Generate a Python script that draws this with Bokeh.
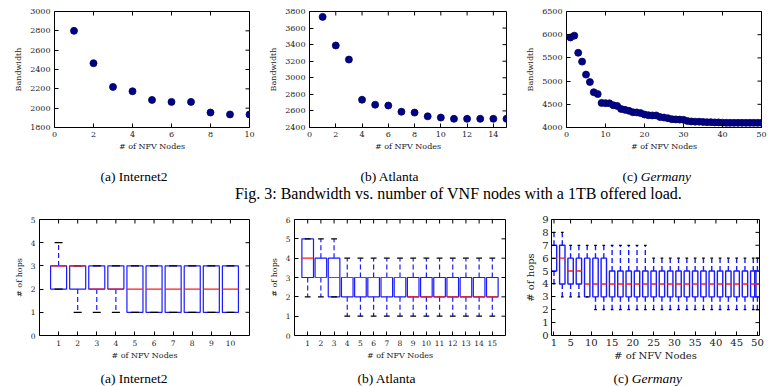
import math
from bokeh.plotting import figure
from bokeh.models import Range1d, FixedTicker, Label, ColumnDataSource
from bokeh.layouts import column, row
from bokeh.embed import file_html
from bokeh.resources import INLINE

# ---------------- data ----------------
# Bandwidth vs. number of NFV nodes (1TB offered load)
i2_nodes = list(range(1, 11))
i2_bandwidth = [2800, 2465, 2220, 2175, 2085, 2065, 2065, 1955, 1935, 1935]

atl_nodes = list(range(1, 16))
atl_bandwidth = [3735, 3390, 3220, 2735, 2675, 2665, 2590, 2580, 2535, 2520,
                 2505, 2505, 2505, 2505, 2505]

ger_nodes = list(range(1, 51))
ger_bandwidth = [5940, 5980, 5610, 5420, 5140, 4980, 4760, 4720, 4530, 4525,
                 4520, 4480, 4465, 4400, 4380, 4360, 4330, 4325, 4310, 4280,
                 4265, 4260, 4260, 4225, 4215, 4200, 4180, 4175, 4170, 4165,
                 4140, 4130, 4125, 4125, 4120, 4115, 4115, 4110, 4110, 4105,
                 4100, 4100, 4100, 4100, 4100, 4100, 4100, 4100, 4100, 4100]

# Hop-count distributions (box plots): quartiles, median, whisker ends
i2_pos = list(range(1, 11))
i2_q1 = [2, 2, 2, 2, 1, 1, 1, 1, 1, 1]
i2_med = [3, 3, 2, 2, 2, 2, 2, 2, 2, 2]
i2_q3 = [3, 3, 3, 3, 3, 3, 3, 3, 3, 3]
i2_lo = [2, 1, 1, 1, 1, 1, 1, 1, 1, 1]
i2_hi = [4, 3, 3, 3, 3, 3, 3, 3, 3, 3]

atl_pos = list(range(1, 16))
atl_q1 = [3, 3, 2] + [2] * 12
atl_med = [4, 3, 3] + [3] * 5 + [2] * 7
atl_q3 = [5, 4, 4] + [3] * 12
atl_lo = [2, 2, 2] + [1] * 12
atl_hi = [5, 5, 5] + [4] * 12

ger_pos = list(range(1, 50, 2)) + [50]
ger_q1 = [5, 4, 4, 4, 3, 3, 3] + [3] * 5 + [3] * 13 + [3]
ger_med = [6, 6, 5, 5, 4, 4, 4] + [4] * 5 + [4] * 13 + [4]
ger_q3 = [7, 7, 6, 6, 6, 6, 6] + [5] * 5 + [5] * 13 + [5]
ger_lo = [4, 3, 3, 3, 3, 2, 2] + [2] * 5 + [2] * 13 + [2]
ger_hi = [8, 8, 7, 7, 7, 7, 7] + [7] * 5 + [6] * 13 + [6]

# tick positions
i2_bw_xticks = [0, 2, 4, 6, 8, 10]
i2_bw_yticks = list(range(1800, 3001, 200))
atl_bw_xticks = list(range(0, 15, 2))
atl_bw_yticks = list(range(2400, 3801, 200))
ger_bw_xticks = list(range(0, 51, 10))
ger_bw_yticks = list(range(4000, 6501, 500))
i2_hop_yticks = list(range(0, 6))
atl_hop_yticks = list(range(0, 7))
ger_hop_xticks = [1, 5, 10, 15, 20, 25, 30, 35, 40, 45, 50]
ger_hop_yticks = list(range(0, 10))

AX_FONT = "DejaVu Serif"
CAP_FONT = "Liberation Serif"
TXT = "#222222"


def panel(width, height, borders, xr, yr, xticks, yticks, xlabel, ylabel,
          tick_size="8px", label_size="8px", xl_stand=2, yl_stand=4, tl_stand=4):
    l, r, t, b = borders
    p = figure(width=width, height=height, x_range=Range1d(*xr), y_range=Range1d(*yr),
               toolbar_location=None, output_backend="svg",
               min_border_left=l, min_border_right=r, min_border_top=t, min_border_bottom=b)
    p.grid.visible = False
    p.outline_line_color = "black"
    p.outline_line_width = 1
    p.background_fill_color = "white"
    p.border_fill_color = "white"
    p.xaxis.ticker = FixedTicker(ticks=xticks)
    p.yaxis.ticker = FixedTicker(ticks=yticks)
    p.xaxis.axis_label = xlabel
    p.yaxis.axis_label = ylabel
    for ax in (p.xaxis[0], p.yaxis[0]):
        ax.axis_line_color = None
        ax.major_tick_in = 4
        ax.major_tick_out = 0
        ax.major_tick_line_color = "black"
        ax.minor_tick_line_color = None
        ax.major_label_text_font = AX_FONT
        ax.major_label_text_font_size = tick_size
        ax.major_label_text_color = TXT
        ax.major_label_standoff = tl_stand
        ax.axis_label_text_font = AX_FONT
        ax.axis_label_text_font_size = label_size
        ax.axis_label_text_font_style = "normal"
        ax.axis_label_text_color = TXT
    p.xaxis.axis_label_standoff = xl_stand
    p.yaxis.axis_label_standoff = yl_stand
    # mirrored inward ticks on the top and right frame edges (half of each dash is clipped)
    p.scatter(xticks, [yr[1]] * len(xticks), marker="dash", angle=math.pi / 2,
              size=8, line_color="black", line_width=1)
    p.scatter([xr[1]] * len(yticks), yticks, marker="dash",
              size=8, line_color="black", line_width=1)
    return p


def scatter_panel(p, xs, ys):
    p.scatter(xs, ys, size=7, fill_color="#00008b", line_color="#000060", line_width=0.8)


def box_panel(p, pos, q1, med, q3, lo, hi, w, lw=1.2):
    src = ColumnDataSource(dict(
        x=pos, q1=q1, med=med, q3=q3, lo=lo, hi=hi,
        left=[x - w / 2 for x in pos], right=[x + w / 2 for x in pos],
        cl=[x - w / 4 for x in pos], cr=[x + w / 4 for x in pos]))
    p.quad(left="left", right="right", bottom="q1", top="q3", source=src,
           fill_color=None, line_color="#1a1aff", line_width=lw)
    p.segment(x0="x", y0="q3", x1="x", y1="hi", source=src,
              line_color="#1a1aff", line_width=lw, line_dash="5 3")
    p.segment(x0="x", y0="q1", x1="x", y1="lo", source=src,
              line_color="#1a1aff", line_width=lw, line_dash="5 3")
    p.segment(x0="cl", y0="hi", x1="cr", y1="hi", source=src, line_color="black", line_width=1.2)
    p.segment(x0="cl", y0="lo", x1="cr", y1="lo", source=src, line_color="black", line_width=1.2)
    p.segment(x0="left", y0="med", x1="right", y1="med", source=src,
              line_color="#ff1a1a", line_width=lw)


# ---------------- top row: bandwidth ----------------
fa = panel(262, 160, (54, 13, 10, 33), (0, 10), (1800, 3000), i2_bw_xticks, i2_bw_yticks,
           "# of NFV Nodes", "Bandwidth")
scatter_panel(fa, i2_nodes, i2_bandwidth)
fb = panel(256, 160, (47, 12, 11, 33), (0, 15), (2400, 3800), atl_bw_xticks, atl_bw_yticks,
           "# of NFV Nodes", "Bandwidth")
scatter_panel(fb, atl_nodes, atl_bandwidth)
fc = panel(250, 160, (48, 7, 11, 33), (0, 50), (4000, 6500), ger_bw_xticks, ger_bw_yticks,
           "# of NFV Nodes", "Bandwidth")
scatter_panel(fc, ger_nodes, ger_bandwidth)


def strip(height):
    s = figure(width=768, height=height, x_range=Range1d(0, 768), y_range=Range1d(height, 0),
               toolbar_location=None, output_backend="svg", min_border=0,
               x_axis_location=None, y_axis_location=None)
    s.grid.visible = False
    s.outline_line_color = None
    return s


def caption(s, x, y, prefix, name, italic=False, size=13.5):
    s.add_layout(Label(x=x, y=y, text=prefix, text_font=CAP_FONT, text_font_size=f"{size}px",
                       text_baseline="middle", text_align="left", text_color="black"))
    s.add_layout(Label(x=x + 1.36 * size, y=y, text=name, text_font=CAP_FONT,
                       text_font_size=f"{size}px", text_font_style="italic" if italic else "normal",
                       text_baseline="middle", text_align="left", text_color="black"))


s1 = strip(45)
caption(s1, 100, 16, "(a)", "Internet2")
caption(s1, 360, 16, "(b)", "Atlanta")
caption(s1, 622, 16, "(c)", "Germany", italic=True)
s1.add_layout(Label(x=458, y=33, text="Fig. 3: Bandwidth vs. number of VNF nodes with a 1TB offered load.",
                    text_font=CAP_FONT, text_font_size="16px", text_align="center",
                    text_baseline="middle", text_color="black"))

# ---------------- bottom row: hop counts ----------------
ga = panel(262, 161, (39, 13, 14, 31), (0, 11), (0, 5), i2_pos, i2_hop_yticks,
           "# of NFV Nodes", "# of hops", tick_size="7.5px")
box_panel(ga, i2_pos, i2_q1, i2_med, i2_q3, i2_lo, i2_hi, 0.84)
gb = panel(256, 161, (32, 13, 14, 31), (0, 16), (0, 6), atl_pos, atl_hop_yticks,
           "# of NFV Nodes", "# of hops", tick_size="7.5px")
box_panel(gb, atl_pos, atl_q1, atl_med, atl_q3, atl_lo, atl_hi, 0.88)
gc = panel(250, 161, (33, 9, 14, 31), (0.4, 50.5), (0, 9), ger_hop_xticks, ger_hop_yticks,
           "# of NFV Nodes", "# of hops", tick_size="10px", label_size="10px",
           xl_stand=1, yl_stand=3, tl_stand=3)
box_panel(gc, ger_pos, ger_q1, ger_med, ger_q3, ger_lo, ger_hi, 1.3, lw=1.4)

s2 = strip(20)
caption(s2, 100, 12, "(a)", "Internet2")
caption(s2, 357, 12, "(b)", "Atlanta")
caption(s2, 613, 12, "(c)", "Germany", italic=True)

layout = column(row(fa, fb, fc), s1, row(ga, gb, gc), s2)
open("out.html", "w").write(file_html(layout, INLINE))
